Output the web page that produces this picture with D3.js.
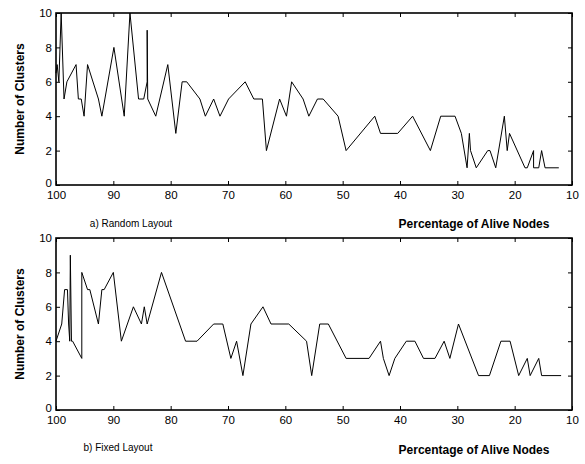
<!DOCTYPE html>
<html>
<head>
<meta charset="utf-8">
<script src="https://cdn.jsdelivr.net/npm/d3@7"></script>
<style>
  body { margin:0; background:#fff; }
  svg { display:block; font-family:"Liberation Sans", Arial, sans-serif; }
</style>
</head>
<body>
<div id="chart"></div>
<script>
// x ticks / y ticks
const xTicks = [100, 90, 80, 70, 60, 50, 40, 30, 20, 10];
const yTicks = [0, 2, 4, 6, 8, 10];

// a) Random Layout
const randomPct = [100, 99.8, 99.5, 99.1, 98.6, 98.1, 96.5, 96.1, 95.6, 95.1, 94.5, 92.6, 92.0, 89.9, 88.1, 87.1, 85.6, 84.7, 84.1, 84.1, 84.0,
  82.6, 80.5, 79.1, 78.0, 77.2, 74.9, 73.95, 72.5, 71.4, 69.9, 67.0, 65.5, 64.0, 63.3, 61.0, 59.8, 58.9, 56.9, 55.9, 54.4, 53.4,
  50.8, 49.4, 44.4, 43.4, 40.4, 37.8, 34.7, 32.9, 30.4, 29.3, 28.3, 27.9, 27.7, 26.7, 24.7, 24.3, 23.3, 21.8, 21.3, 20.9,
  18.2, 17.8, 16.7, 16.7, 15.8, 15.3, 14.7, 12.3];
const randomClusters = [6.5, 7, 6, 10, 5, 6, 7, 5, 5, 4, 7, 5, 4, 8, 4, 10, 5, 5, 6, 9, 5,
  4, 7, 3, 6, 6, 5, 4, 5, 4, 5, 6, 5, 5, 2, 5, 4, 6, 5, 4, 5, 5,
  4, 2, 4, 3, 3, 4, 2, 4, 4, 3, 1, 3, 2, 1, 2, 2, 1, 4, 2, 3,
  1, 1, 2, 1, 1, 2, 1, 1];

// b) Fixed Layout
const fixedPct = [100, 99.0, 98.5, 98.0, 97.8, 97.6, 97.5, 97.3, 97.1, 97.1, 95.5, 95.5, 94.5, 94.1, 92.6, 92.0, 91.6, 90.0, 88.6, 86.5, 85.1, 84.6, 84.1,
  81.6, 77.4, 75.4, 72.5, 70.9, 69.5, 68.5, 67.4, 66.0, 63.9, 62.5, 59.4, 56.3, 55.4, 54.0, 52.5, 49.4, 45.4,
  43.4, 42.9, 41.9, 40.9, 38.9, 37.4, 35.9, 33.9, 32.3, 31.3, 29.8, 26.3, 24.4, 22.4, 20.8, 19.3, 17.8, 17.3, 15.8, 15.3, 11.9];
const fixedClusters = [4, 5, 7, 7, 5, 4, 9, 4, 4, 4, 3, 8, 7, 7, 5, 7, 7, 8, 4, 6, 5, 6, 5,
  8, 4, 4, 5, 5, 3, 4, 2, 5, 6, 5, 5, 4, 2, 5, 5, 3, 3,
  4, 3, 2, 3, 4, 4, 3, 3, 4, 3, 5, 2, 2, 4, 4, 2, 3, 2, 3, 2, 2];

const W = 585, H = 464;
const svg = d3.select('#chart').append('svg').attr('width', W).attr('height', H);

const x = d3.scaleLinear().domain([100, 10]).range([56, 572]);

function panel(top, pct, vals, caption, capX, capY, lblY){
  const bottom = top + 172;
  const y = d3.scaleLinear().domain([0, 10]).range([bottom, top]);
  const g = svg.append('g');

  // data line
  g.append('path')
    .datum(d3.zip(pct, vals))
    .attr('fill','none').attr('stroke','#000').attr('stroke-width',1)
    .attr('d', d3.line().x(d=>x(d[0])).y(d=>y(d[1])));

  // axes, ticks inward
  const ax = [
    d3.axisBottom(x).tickValues(xTicks).tickSizeInner(-4).tickSizeOuter(0).tickPadding(6),
    d3.axisTop(x).tickValues(xTicks).tickSizeInner(-4).tickSizeOuter(0).tickFormat(''),
    d3.axisLeft(y).tickValues(yTicks).tickSizeInner(-4).tickSizeOuter(0).tickPadding(4),
    d3.axisRight(y).tickValues(yTicks).tickSizeInner(-4).tickSizeOuter(0).tickFormat('')
  ];
  const pos = [`translate(0,${bottom})`, `translate(0,${top})`, `translate(56,0)`, `translate(572,0)`];
  ax.forEach((a,i)=>{
    const ag = g.append('g').attr('transform', pos[i]).call(a);
    ag.select('.domain').remove();
    ag.selectAll('line').attr('stroke','#000');
    ag.selectAll('text').attr('fill','#000').style('font-size','11.5px').style('font-family','"Liberation Sans", Arial, sans-serif');
  });
  // lift the "0" label a bit so it sits above "100"
  g.selectAll('text').filter(function(){ return this.textContent === '0'; }).attr('dy','0.1em');

  g.append('rect').attr('x',56).attr('y',top).attr('width',516).attr('height',172)
    .attr('fill','none').attr('stroke','#000').attr('stroke-width',1.6);

  g.append('text').attr('transform',`translate(20,${(top+bottom)/2}) rotate(-90)`)
    .attr('text-anchor','middle').attr('dy','0.35em')
    .style('font-size','12px').style('font-weight','bold').text('Number of Clusters');
  g.append('text').attr('x',474).attr('y',lblY).attr('dy','0.35em')
    .attr('text-anchor','middle')
    .style('font-size','12px').style('font-weight','bold').text('Percentage of Alive Nodes');
  g.append('text').attr('x',capX).attr('y',capY).attr('dy','0.35em')
    .attr('text-anchor','middle')
    .style('font-size','10px').text(caption);
}

panel(13, randomPct, randomClusters, 'a) Random Layout', 131, 223, 224);
panel(238, fixedPct, fixedClusters, 'b) Fixed Layout', 118, 447, 450);
</script>
</body>
</html>
